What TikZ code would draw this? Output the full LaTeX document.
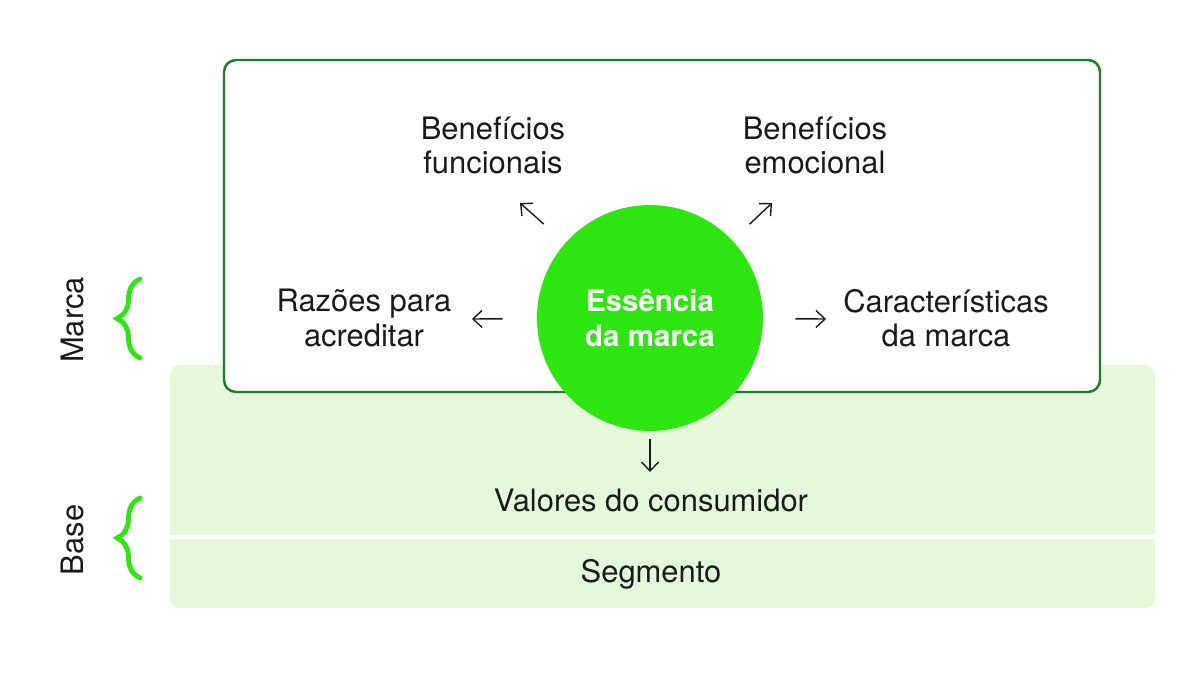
\documentclass[tikz,border=0pt]{standalone}
\usepackage{fontspec}
\setmainfont{TeX Gyre Heros}
\usetikzlibrary{arrows.meta,decorations.pathreplacing}
\definecolor{boxgreen}{HTML}{1E7B2E}
\definecolor{basegreen}{HTML}{E3F9D9}
\definecolor{brightgreen}{HTML}{2EE60F}
\definecolor{inkgray}{HTML}{1A1A1A}

\begin{document}
\begin{tikzpicture}[
  x=0.02cm, y=-0.02cm,
  every node/.style={font=\fontsize{17.6}{19.4}\selectfont, text=inkgray, align=center, inner sep=0pt},
  arr/.style={-{Straight Barb[length=1.8mm,width=3.4mm]}, line width=0.8pt, draw=inkgray},
  brc/.style={draw=brightgreen, line width=2.8pt, line cap=round, decorate, decoration={brace, amplitude=13pt}}
]
\useasboundingbox (0,0) rectangle (1200,675);
% base
\fill[basegreen, rounded corners=0.2cm] (170,365) rectangle (1155,608);
\draw[white, line width=2pt] (170,537) -- (1155,537);
\node (val) at (651,500) {Valores do consumidor};
\node (seg) at (651,574) {Segmento};
% marca
\draw[boxgreen, fill=white, line width=1.4pt, rounded corners=0.24cm] (224,60) rectangle (1100,392);
\node[circle, fill=brightgreen, minimum size=4.52cm, text=white, font=\fontsize{16.8}{19.4}\selectfont\bfseries] (ess) at (650,318) {Essência\\da marca};
\node (func) at (493,145) {Benefícios\\funcionais};
\node (emoc) at (815,145) {Benefícios\\emocional};
\node (raz) at (364,318) {Razões para\\acreditar};
\node (car) at (946,318) {Características\\da marca};
\coordinate (fa) at (520,203);
\coordinate (fe) at (772,203);
\coordinate (ra) at (472,319);
\coordinate (ca) at (826,319);
\coordinate (va) at (650,472);
\draw[arr, shorten <=0.57cm] (ess) -- (fa);
\draw[arr, shorten <=0.47cm] (ess) -- (fe);
\draw[arr, shorten <=0.68cm] (ess) -- (ra);
\draw[arr, shorten <=0.64cm] (ess) -- (ca);
\draw[arr, shorten <=0.16cm] (ess) -- (va);
% side labels
\node[rotate=90] (marca) at (72,320) {Marca};
\node[rotate=90] (base) at (72,540) {Base};
\draw[brc] (140,358) -- (140,279);
\draw[brc] (140,578) -- (140,498);
\end{tikzpicture}
\end{document}
